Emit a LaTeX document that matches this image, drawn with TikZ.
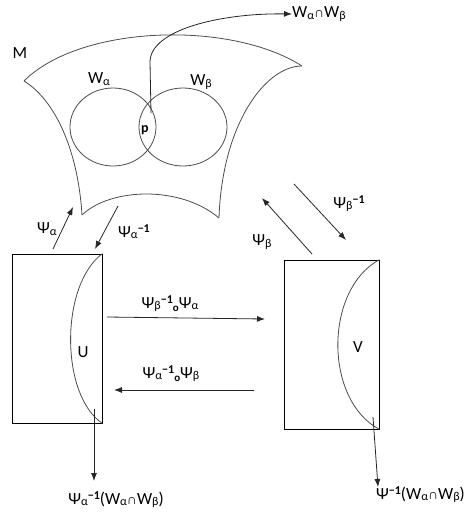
\documentclass[tikz,border=0pt]{standalone}
\usepackage{fontspec}
\setmainfont{Carlito}
\newfontfamily\symf{Liberation Sans}
\usetikzlibrary{arrows.meta}
\newcommand{\subA}{\raisebox{-0.15ex}{\fontsize{12}{12}\selectfont α}}
\newcommand{\subB}{\raisebox{-0.15ex}{\fontsize{12}{12}\selectfont β}}
\newcommand{\invx}{\raisebox{0.6ex}{\fontsize{12}{12}\selectfont\bfseries −1}}
\newcommand{\compo}{\raisebox{-0.35ex}{\fontsize{11}{11}\selectfont\bfseries o}}
\newcommand{\capx}{{\symf\fontsize{14}{14}\selectfont ∩}}
\begin{document}
\begin{tikzpicture}[x=1pt,y=-1pt,
  lbl/.style={inner sep=0pt,font=\fontsize{17}{20}\selectfont},
  mani/.style={draw=black!70,line width=0.8pt},
  arr/.style={draw=black!85,line width=0.8pt,-{Latex[length=8pt,width=6pt]}},
  chart/.style={draw=black,line width=0.8pt,rectangle,inner sep=0pt}]
\useasboundingbox (0,0) rectangle (465,517);
% manifold M
\coordinate (tl) at (24,81);
\coordinate (tr) at (302,66);
\coordinate (bl) at (82,215);
\coordinate (br) at (219,218);
\draw[mani] (tl) .. controls (80,25) and (230,20) .. (tr);
\draw[mani] (tr) .. controls (265,66) and (222,125) .. (br);
\draw[mani] (tl) .. controls (55,100) and (78,150) .. (bl);
\draw[mani] (bl) .. controls (110,188) and (180,185) .. (br);
\draw[mani] (113,127) ellipse [x radius=43, y radius=39];
\draw[mani] (183,127) ellipse [x radius=44, y radius=39];
% labels in M
\node[lbl] (M) at (20,53) {M};
\node[lbl] (Wa) at (99,79) {W\subA};
\node[lbl] (Wb) at (201,82) {W\subB};
\node[lbl,font=\fontsize{14}{16}\selectfont\bfseries] (p) at (145,130) {p};
\node[lbl,anchor=west] (WaWb) at (292,14) {W\subA\capx W\subB};
\coordinate (ps) at (151,113);
\coordinate (pm) at (150,62);
\draw[arr] (ps) -- (pm) .. controls (150,30) and (220,13) .. (WaWb.west);
% charts
\node[chart,minimum width=90,minimum height=169] (U) at (57,338.5) {};
\node[chart,minimum width=95,minimum height=169] (V) at (331.5,344.5) {};
\draw[mani] (U.north east) .. controls (60,285) and (60,395) .. (U.south east);
\draw[mani] (V.north east) .. controls (324,290) and (324,400) .. (V.south east);
\node[lbl] (Ul) at (83,352) {U};
\node[lbl] (Vl) at (358,347) {V};
% maps between M and charts
\coordinate (a1) at (53,249); \coordinate (a2) at (73,207);
\draw[arr] (a1) -- (a2);
\node[lbl] (psia) at (47,229) {Ψ\subA};
\coordinate (b1) at (118,206); \coordinate (b2) at (95,249);
\draw[arr] (b1) -- (b2);
\node[lbl] (psiai) at (134,232) {Ψ\subA\invx};
\coordinate (c1) at (312,254); \coordinate (c2) at (262,198);
\draw[arr] (c1) -- (c2);
\node[lbl] (psib) at (262,242) {Ψ\subB};
\coordinate (d1) at (294,184); \coordinate (d2) at (346,240);
\draw[arr] (d1) -- (d2);
\node[lbl] (psibi) at (349,204) {Ψ\subB\invx};
% transition maps
\coordinate (e1) at (107,317); \coordinate (e2) at (265,319);
\draw[arr] (e1) -- (e2);
\node[lbl] (tab) at (170,304) {Ψ\subB\invx\compo Ψ\subA};
\coordinate (f1) at (254,390); \coordinate (f2) at (114,390);
\draw[arr] (f1) -- (f2);
\node[lbl] (tba) at (171,374) {Ψ\subA\invx\compo Ψ\subB};
% overlap images
\coordinate (g1) at (94,409);
\draw[arr] (g1) -- (94,481) coordinate (g2);
\node[lbl] (imU) at (116,500) {Ψ\subA\invx(W\subA\capx W\subB)};
\coordinate (h1) at (373,417);
\draw[arr] (h1) -- (378,487) coordinate (h2);
\node[lbl,anchor=east] (imV) at (465,495) {Ψ\invx(W\subA\capx W\subB)};
\end{tikzpicture}
\end{document}
